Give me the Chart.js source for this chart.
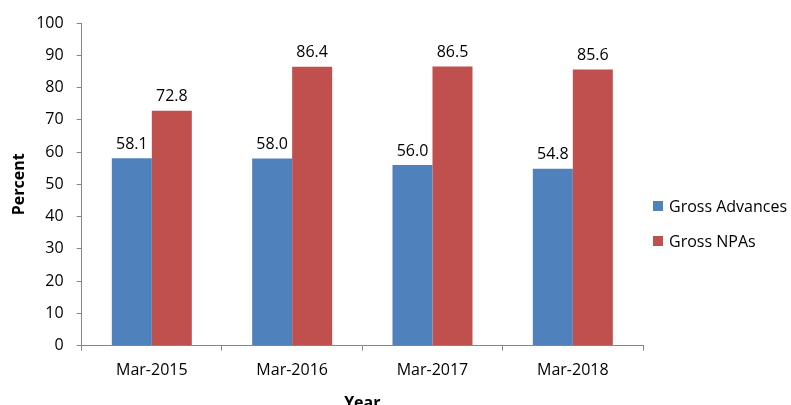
<!DOCTYPE html>
<html lang="en">
<head>
<meta charset="UTF-8">
<title>Gross Advances vs Gross NPAs</title>
<script src="https://cdn.jsdelivr.net/npm/chart.js"></script>
<style>
  html, body { margin: 0; padding: 0; background: #fff; }
  #wrap { position: relative; width: 791px; height: 405px; overflow: hidden; }
  #chart { position: absolute; left: 0; top: 0; }
  .legend { position: absolute; left: 653px; font: 16px "Open Sans", sans-serif; color: #000; }
  .legend span { display: inline-block; width: 10px; height: 10px; margin-right: 6px; vertical-align: 1px; }
</style>
</head>
<body>
<div id="wrap">
  <canvas id="chart" width="791" height="413"></canvas>
  <div class="legend" style="top:195px"><span style="background:#4F81BD"></span>Gross Advances</div>
  <div class="legend" style="top:230px"><span style="background:#C0504D"></span>Gross NPAs</div>
</div>
<script>
const categories = ["Mar-2015", "Mar-2016", "Mar-2017", "Mar-2018"];
const grossAdvances = [58.1, 58.0, 56.0, 54.8];
const grossNPAs = [72.8, 86.4, 86.5, 85.6];

const font = { family: "'Open Sans', sans-serif", size: 16 };

// value labels above each bar
const barLabels = {
  id: "barLabels",
  afterDatasetsDraw(chart) {
    const ctx = chart.ctx;
    ctx.save();
    ctx.font = "16px 'Open Sans', sans-serif";
    ctx.fillStyle = "#000";
    ctx.textAlign = "center";
    ctx.textBaseline = "bottom";
    chart.data.datasets.forEach((ds, i) => {
      chart.getDatasetMeta(i).data.forEach((bar, j) => {
        ctx.fillText(ds.data[j].toFixed(1), bar.x, bar.y - 6);
      });
    });
    ctx.restore();
  }
};

new Chart(document.getElementById("chart"), {
  type: "bar",
  data: {
    labels: categories,
    datasets: [
      { label: "Gross Advances", data: grossAdvances, backgroundColor: "#4F81BD" },
      { label: "Gross NPAs", data: grossNPAs, backgroundColor: "#C0504D" }
    ]
  },
  options: {
    responsive: false,
    animation: false,
    layout: { padding: { top: 23, right: 148, left: 10, bottom: 0 } },
    datasets: { bar: { categoryPercentage: 0.57, barPercentage: 1.0 } },
    plugins: { legend: { display: false }, tooltip: { enabled: false } },
    scales: {
      x: {
        grid: { drawOnChartArea: false, tickLength: 5, color: "#868686" },
        border: { color: "#868686", width: 1 },
        ticks: { color: "#000", font: font, padding: 10 },
        title: { display: true, text: "Year", color: "#000", font: { family: "'Open Sans', sans-serif", size: 16, weight: "bold" }, padding: { top: 4, bottom: 0 } }
      },
      y: {
        min: 0, max: 100,
        ticks: { stepSize: 10, color: "#000", font: font, padding: 13 },
        grid: { drawOnChartArea: false, tickLength: 5, color: "#868686" },
        border: { color: "#868686", width: 1 },
        title: { display: true, text: "Percent", color: "#000", font: { family: "'Open Sans', sans-serif", size: 16, weight: "bold" }, padding: { top: 0, bottom: -6 } }
      }
    }
  },
  plugins: [barLabels]
});
</script>
</body>
</html>
